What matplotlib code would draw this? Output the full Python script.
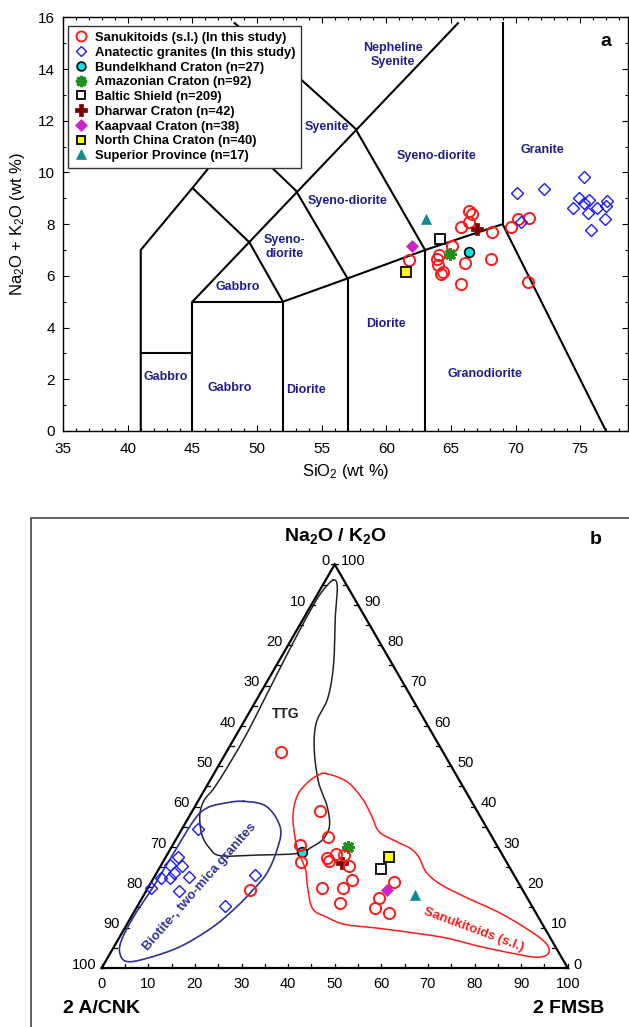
import numpy as np
import matplotlib
matplotlib.use("Agg")
import matplotlib.pyplot as plt
from matplotlib.lines import Line2D
from matplotlib.patches import Rectangle
from matplotlib.ticker import MultipleLocator

plt.rcParams['font.family'] = ['Liberation Sans', 'DejaVu Sans']
plt.rcParams['mathtext.fontset'] = 'custom'
plt.rcParams['mathtext.rm'] = 'Liberation Sans'
plt.rcParams['mathtext.it'] = 'Liberation Sans:italic'
plt.rcParams['mathtext.bf'] = 'Liberation Sans:bold'

# ---------------- Panel a data (SiO2 vs Na2O+K2O) ----------------
san_si = [66.36, 66.62, 66.43, 65.79, 68.21, 69.66, 70.18, 71.05, 65.12, 64.11,
          63.91, 64.03, 64.42, 64.24, 66.05, 68.09, 65.79, 70.95, 61.79]
san_alk = [8.51, 8.39, 8.09, 7.88, 7.68, 7.88, 8.19, 8.22, 7.15, 6.81,
           6.64, 6.42, 6.16, 6.06, 6.51, 6.65, 5.68, 5.75, 6.61]
ana_si = [70.10, 72.22, 75.33, 74.92, 75.31, 75.70, 74.44, 76.29, 77.07, 77.01,
          75.60, 76.94, 75.85, 70.43]
ana_alk = [9.19, 9.36, 9.81, 9.00, 8.80, 8.93, 8.61, 8.64, 8.91, 8.70,
           8.44, 8.19, 7.77, 8.09]
craton_names = ["Bundelkhand Craton (n=27)", "Amazonian Craton (n=92)", "Baltic Shield (n=209)",
                "Dharwar Craton (n=42)", "Kaapvaal Craton (n=38)", "North China Craton (n=40)",
                "Superior Province (n=17)"]
craton_si = [66.43, 64.89, 64.19, 67.0, 62.02, 61.53, 63.06]
craton_alk = [6.91, 6.83, 7.42, 7.80, 7.15, 6.16, 8.20]

# TAS boundaries (Middlemost-type plutonic diagram)
tas_lines = [
    [(41, 0), (41, 7), (45, 9.4), (48.4, 11.5), (52.5, 14)],
    [(41, 3), (45, 3)],
    [(45, 0), (45, 5), (52, 5), (52, 0)],
    [(45, 5), (65.6, 15.8)],
    [(45, 9.4), (49.4, 7.3), (52, 5)],
    [(48.4, 11.5), (53, 9.3), (57, 5.9)],
    [(52, 5), (57, 5.9), (63, 7), (69, 8), (77, 0)],
    [(57, 0), (57, 5.9)],
    [(63, 0), (63, 7)],
    [(69, 8), (69, 15.8)],
    [(48.2, 15.8), (52.5, 14), (57.6, 11.7), (63, 7)],
]
field_names = ["Nepheline\nSyenite", "Syenite", "Syeno-diorite", "Granite", "Syeno-diorite",
               "Syeno-\ndiorite", "Gabbro", "Gabbro", "Gabbro", "Diorite", "Diorite", "Granodiorite"]
field_x = [60.5, 55.4, 63.9, 72.1, 57.0, 52.1, 48.5, 42.9, 47.9, 53.8, 60.0, 67.6]
field_y = [14.54, 11.77, 10.63, 10.87, 8.91, 7.13, 5.56, 2.1, 1.65, 1.59, 4.14, 2.2]

# ---------------- Panel b data (ternary: b = 2 FMSB %, c = Na2O/K2O %) ----------------
san_b = [11.8, 27.4, 32.4, 27.2, 29.7, 34.8, 35.4, 36.2, 37.9, 40.5, 42.9, 41.8, 37.4, 43.1,
         52.1, 50.8, 51.2, 54.8, 22.2]
san_c = [53.4, 39.0, 32.5, 30.5, 26.3, 27.3, 26.6, 28.2, 28.0, 25.3, 21.8, 19.9, 19.9, 16.2,
         21.4, 17.4, 14.9, 13.6, 19.4]
ana_b = [3.4, 2.6, 1.9, 4.5, 3.7, 1.6, 3.5, 7.4, 0.7, 6.9, 21.5, 18.8]
ana_c = [34.4, 27.4, 25.5, 25.3, 23.6, 22.2, 22.4, 22.5, 19.9, 19.2, 23.0, 15.4]
craton_b = [28.6, 37.9, 47.6, 38.5, 51.5, 47.9, 58.1]
craton_c = [28.7, 29.9, 24.6, 26.1, 19.3, 27.4, 18.1]

ttg_b = [1.6, 3.3, 6.4, 12.2, 15.1, 15.6, 18.4, 23.4, 28.1, 31.2, 31.6, 30.2, 27.8, 19.8, 11.7,
         8.3, 5.0, 2.1, 1.2, 1.8, 2.1, 2.1, 1.5, 0.8, 0.5, 0.6]
ttg_c = [96.1, 94.5, 87.5, 75.1, 66.8, 61.0, 54.4, 46.2, 40.4, 35.4, 32.1, 30.1, 28.4, 28.0, 27.8,
         29.7, 33.0, 37.9, 41.5, 44.5, 50, 58, 68, 80, 88, 93]
sanf_b = [24.0, 29.5, 34.9, 38.9, 42.6, 47.2, 51.3, 54.3, 57.7, 62.2, 69.2, 78.7, 87.3, 91.9, 93.8,
          93.8, 91.6, 86.5, 78.6, 70.4, 62.5, 54.8, 46.8, 42.0, 38.0, 34.3, 31.6, 27.9, 25.4, 22.1,
          20.6, 21.3, 22.6]
sanf_c = [48.2, 46.2, 42.0, 37.9, 33.8, 31.5, 29.7, 27.5, 23.8, 20.8, 17.6, 13.6, 9.2, 6.4, 4.5,
          3.1, 2.7, 3.6, 5.3, 7.4, 8.7, 9.8, 10.8, 12.6, 14.6, 19.8, 24.3, 28.7, 32.2, 37.9,
          42.9, 46.2, 47.8]
bio_b = [9.8, 15.4, 21.0, 23.0, 23.7, 22.8, 21.4, 18.8, 14.2, 8.5, 4.6, 2.1, 0.8, 0.5, 1.0, 1.2,
         1.5, 2.7, 5.7]
bio_c = [41.3, 40.0, 34.7, 29.2, 23.5, 19.3, 15.2, 10.2, 5.3, 2.4, 1.6, 3.6, 6.9, 12.7, 20.1,
         28.4, 36.7, 39.6, 40.8]
tick_vals = list(range(0, 101, 10))

# ---------------- styles ----------------
NAVY = '#1f1f8a'
RED = '#ff1a1a'
craton_styles = [
    dict(marker='o', mfc='#00e6e6', mec='black', ms=7, mew=1.2),
    dict(marker=(8, 2, 0), mfc='#1f8f1f', mec='#1f8f1f', ms=9, mew=2.2),
    dict(marker='s', mfc='white', mec='black', ms=7, mew=1.3),
    dict(marker='P', mfc='#7a0000', mec='#7a0000', ms=9, mew=0.5),
    dict(marker='D', mfc='#cc22cc', mec='#cc22cc', ms=6.5, mew=0.5),
    dict(marker='s', mfc='#ffff00', mec='black', ms=7, mew=1.3),
    dict(marker='^', mfc='#138a8a', mec='#138a8a', ms=7.5, mew=0.5),
]
san_style = dict(marker='o', mfc='none', mec=RED, ms=8, mew=1.4, ls='none')
ana_style = dict(marker='D', mfc='none', mec='#1a1aff', ms=6, mew=1.0, ls='none')

fig = plt.figure(figsize=(6.29, 10.27), dpi=100)

# ---------------- Panel a ----------------
ax = fig.add_axes([63.2 / 629, 1 - 431 / 1027, (628 - 63.2) / 629, (431 - 17.3) / 1027])
ax.set_xlim(35, 78.7)
ax.set_ylim(0, 16)
for seg in tas_lines:
    xs, ys = zip(*seg)
    ax.plot(xs, ys, color='black', lw=1.5, zorder=1, solid_capstyle='butt')
for name, fx, fy in zip(field_names, field_x, field_y):
    ax.text(fx, fy, name, color=NAVY, fontsize=9, fontweight='bold',
            ha='center', va='center', linespacing=1.2, zorder=2)
ax.plot(san_si, san_alk, zorder=4, **san_style)
ax.plot(ana_si, ana_alk, zorder=4, **ana_style)
for st, x, y in zip(craton_styles, craton_si, craton_alk):
    ax.plot([x], [y], ls='none', zorder=5, **st)
ax.text(77.0, 15.06, 'a', fontsize=14, fontweight='bold', ha='center', va='center')

ax.xaxis.set_major_locator(MultipleLocator(5))
ax.xaxis.set_minor_locator(MultipleLocator(1))
ax.yaxis.set_major_locator(MultipleLocator(2))
ax.yaxis.set_minor_locator(MultipleLocator(1))
ax.tick_params(which='both', direction='in', top=True, right=True, labelsize=11, width=0.8)
ax.tick_params(which='major', length=4)
ax.tick_params(which='minor', length=2)
ax.tick_params(axis='x', which='major', pad=8)
ax.tick_params(axis='y', which='major', pad=6)
ax.set_xlabel('SiO$_2$ (wt %)', fontsize=12, labelpad=4)
ax.set_ylabel('Na$_2$O + K$_2$O (wt %)', fontsize=12, labelpad=8)
for sp in ax.spines.values():
    sp.set_linewidth(1.0)

handles = [Line2D([], [], **san_style), Line2D([], [], **ana_style)]
handles += [Line2D([], [], ls='none', **st) for st in craton_styles]
labels = ["Sanukitoids (s.l.) (In this study)", "Anatectic granites (In this study)"] + craton_names
leg = ax.legend(handles, labels, loc='upper left', bbox_to_anchor=(0.009, 0.979),
                borderaxespad=0, frameon=True, fancybox=False, edgecolor='#333333',
                prop=dict(weight='bold', size=9.4), labelspacing=0.2, handlelength=1.0,
                handletextpad=0.6, borderpad=0.45, markerscale=0.9, framealpha=1)
leg.get_frame().set_linewidth(1.0)
leg.set_zorder(10)

# ---------------- Panel b (ternary) ----------------
S = np.sqrt(3) / 2
PX = 4.66
axb = fig.add_axes([0, 0, 1, 509 / 1027])
axb.set_xlim(-101.7 / PX, (629 - 101.7) / PX)
axb.set_ylim((968 - 1027) / PX, (968 - 518) / PX)
axb.axis('off')


def tern(b, c):
    b = np.asarray(b, float)
    c = np.asarray(c, float)
    return b + c / 2, c * S


def smooth_closed(x, y, n=14):
    P = np.column_stack([x, y])
    N = len(P)
    out = []
    t = np.linspace(0, 1, n, endpoint=False)[:, None]
    for i in range(N):
        p0, p1, p2, p3 = P[i - 1], P[i], P[(i + 1) % N], P[(i + 2) % N]
        out.append(0.5 * (2 * p1 + (-p0 + p2) * t + (2 * p0 - 5 * p1 + 4 * p2 - p3) * t ** 2
                          + (-p0 + 3 * p1 - 3 * p2 + p3) * t ** 3))
    out = np.vstack(out)
    out = np.vstack([out, out[:1]])
    return out[:, 0], out[:, 1]


# triangle
axb.plot([0, 100, 50, 0], [0, 0, 100 * S, 0], color='black', lw=1.6, clip_on=False, zorder=2,
         solid_joinstyle='miter')
for v in range(0, 101, 5):
    axb.plot([v, v], [0, 0.8], color='black', lw=0.9)
    lx, ly = (100 - v) / 2, (100 - v) * S
    axb.plot([lx, lx + 0.8], [ly, ly], color='black', lw=0.9)
    rx, ry = 100 - v / 2, v * S
    axb.plot([rx, rx - 0.8], [ry, ry], color='black', lw=0.9)
for v in tick_vals:
    axb.text(v, -3.4, str(v), fontsize=10.5, ha='center', va='center')
    lx, ly = (100 - v) / 2, (100 - v) * S
    axb.text(lx - 1.1, ly + 0.7, str(v), fontsize=10.5, ha='right', va='center')
    rx, ry = 100 - v / 2, v * S
    axb.text(rx + 1.3, ry + 0.7, str(v), fontsize=10.5, ha='left', va='center')

axb.text(50.1, 92.6, r'$\mathbf{Na_{2}O\ /\ K_{2}O}$', fontsize=14, ha='center', va='center')
axb.text(0.0, -8.6, '2 A/CNK', fontsize=14, fontweight='bold', ha='center', va='center')
axb.text(100.1, -8.6, '2 FMSB', fontsize=14, fontweight='bold', ha='center', va='center')
axb.text(106.1, 91.9, 'b', fontsize=14, fontweight='bold', ha='center', va='center')

# fields
fx, fy = smooth_closed(*tern(ttg_b, ttg_c))
axb.plot(fx, fy, color='#222222', lw=1.1, zorder=3)
fx, fy = smooth_closed(*tern(sanf_b, sanf_c))
axb.plot(fx, fy, color=RED, lw=1.1, zorder=3)
fx, fy = smooth_closed(*tern(bio_b, bio_c))
axb.plot(fx, fy, color='#2e3192', lw=1.2, zorder=3)

axb.text(39.5, 54.4, 'TTG', fontsize=10, fontweight='bold', color='#222222', ha='center', va='center')
axb.text(21.05, 17.3, 'Biotite-, two-mica granites', fontsize=9.5, fontweight='bold',
         color='#2e3192', rotation=48.8, ha='center', va='center', rotation_mode='anchor')
axb.text(79.9, 8.15, 'Sanukitoids (s.l.)', fontsize=9.5, fontweight='bold', color=RED,
         rotation=-20.3, ha='center', va='center', rotation_mode='anchor')

# points
x, y = tern(ana_b, ana_c)
axb.plot(x, y, zorder=4, **ana_style)
for st, b, c in zip(craton_styles, craton_b, craton_c):
    x, y = tern([b], [c])
    axb.plot(x, y, ls='none', zorder=4, **st)
x, y = tern(san_b, san_c)
axb.plot(x, y, zorder=5, **san_style)

# panel frame
fig.add_artist(Rectangle((31 / 629, -0.05), 1.0, 0.05 + 1 - 518 / 1027, transform=fig.transFigure,
                         fill=False, edgecolor='#444444', lw=1.2))

fig.savefig('out.png', dpi=100)
